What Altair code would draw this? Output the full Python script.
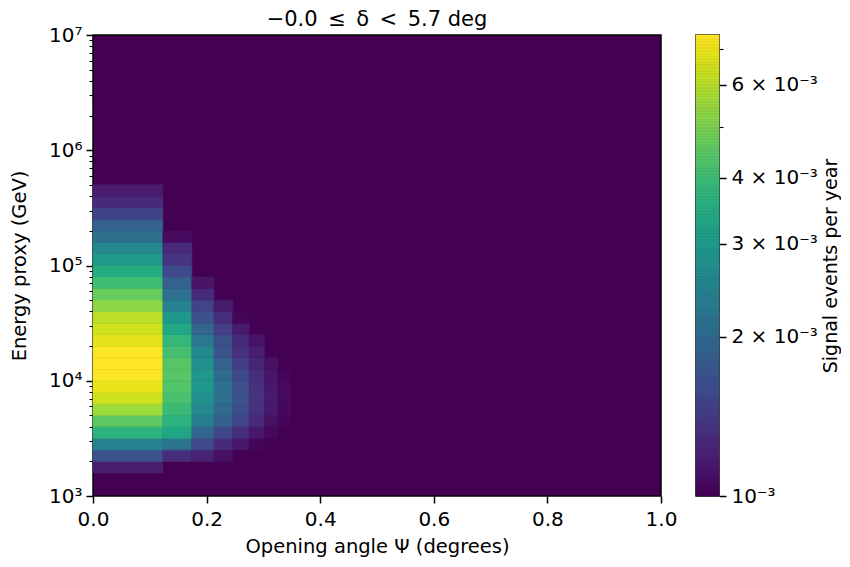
import altair as alt
import numpy as np
import pandas as pd

# ---- data -------------------------------------------------------------
# opening-angle bin edges (degrees) of the non-empty columns
psi_edges = [0.0, 0.123, 0.174, 0.213, 0.246, 0.275, 0.302, 0.326, 0.348]
# width of an energy bin in log10(E)
dlogE = 0.1
# lowest log10(E / GeV) bin of each column
col_start = [3.2, 3.3, 3.3, 3.3, 3.4, 3.4, 3.5, 3.6]
# signal events per year (units of 1e-3), from the lowest bin upward
col_values = [
    [1.17, 1.65, 2.42, 3.62, 4.51, 5.57, 6.48, 6.96, 7.42, 7.45, 7.39, 6.89, 6.48,
     6.10, 5.29, 4.69, 4.00, 3.46, 3.02, 2.57, 2.10, 1.86, 1.49, 1.27, 1.15],
    [1.30, 2.14, 3.27, 3.62, 3.92, 4.16, 4.33, 4.42, 4.38, 4.10, 3.80, 3.34, 2.90,
     2.42, 2.10, 1.86, 1.56, 1.35, 1.27, 1.06],
    [1.20, 1.56, 1.90, 2.32, 2.57, 2.73, 2.90, 2.90, 2.73, 2.57, 2.23, 1.90, 1.65,
     1.49, 1.27, 1.11],
    [1.08, 1.27, 1.52, 1.83, 1.98, 2.10, 2.10, 1.98, 1.86, 1.69, 1.62, 1.44, 1.30, 1.15],
    [1.13, 1.30, 1.49, 1.59, 1.65, 1.62, 1.56, 1.44, 1.32, 1.27, 1.15, 1.02],
    [1.02, 1.13, 1.27, 1.32, 1.35, 1.32, 1.30, 1.22, 1.17, 1.10],
    [1.04, 1.08, 1.13, 1.15, 1.13, 1.11, 1.08],
    [1.02, 1.04, 1.05, 1.04, 1.02],
]
color_min = 1e-3
color_max = 7.45e-3

x_ticks = [0.0, 0.2, 0.4, 0.6, 0.8, 1.0]
y_major = [1e3, 1e4, 1e5, 1e6, 1e7]
y_major_labels = ["10³", "10⁴", "10⁵", "10⁶", "10⁷"]
cb_ticks = [1e-3, 2e-3, 3e-3, 4e-3, 5e-3, 6e-3, 7e-3]
cb_labels = ["10⁻³", "2 × 10⁻³", "3 × 10⁻³", "4 × 10⁻³", "", "6 × 10⁻³", ""]

title_text = "−0.0\u2002≤\u2002δ\u2002<\u20025.7 deg"
x_title = "Opening angle Ψ (degrees)"
y_title = "Energy proxy (GeV)"
cb_title = "Signal events per year"

# ---- tables -----------------------------------------------------------
rows = []
for i, (start, vals) in enumerate(zip(col_start, col_values)):
    for j, v in enumerate(vals):
        lo = round(start + j * dlogE, 2)
        rows.append({
            "x": psi_edges[i], "x2": psi_edges[i + 1],
            "y": 10 ** lo, "y2": 10 ** (lo + dlogE),
            "v": v * 1e-3,
        })
df = pd.DataFrame(rows)

y_values = []
for k in range(3, 7):
    for m in range(1, 10):
        y_values.append(m * 10.0 ** k)
y_values.append(1e7)

n_steps = 300
lv = np.linspace(np.log10(color_min), np.log10(color_max), n_steps + 1)
cb_df = pd.DataFrame({"lo": 10 ** lv[:-1], "hi": 10 ** lv[1:],
                      "mid": 10 ** ((lv[:-1] + lv[1:]) / 2)})

# ---- helpers ----------------------------------------------------------
def label_expr(vals, labels):
    expr = "''"
    for v, lab in zip(vals, labels):
        expr = f"(abs(datum.value - {v!r}) < {v * 1e-3!r}) ? '{lab}' : " + expr
    return expr

major_test_y = " || ".join(f"abs(datum.value - {v!r}) < {v * 1e-3!r}" for v in y_major)
cb_major = [v for v, lab in zip(cb_ticks, cb_labels) if lab]
major_test_cb = " || ".join(f"abs(datum.value - {v!r}) < {v * 1e-3!r}" for v in cb_major)

color_scale = alt.Scale(type="log", scheme="viridis",
                        domain=[color_min, color_max], clamp=True)

FONT = "DejaVu Sans"
LBL = 20
TTL = 19.5
H = 461

heat = alt.Chart(df).mark_rect(strokeWidth=0.6).encode(
    x=alt.X("x:Q", scale=alt.Scale(domain=[0, 1], nice=False, zero=False),
            axis=alt.Axis(values=x_ticks, format=".1f", title=x_title,
                          labelFlush=False, grid=False, domain=False,
                          tickSize=7, tickWidth=1.5, tickColor="black",
                          labelFontSize=LBL, labelPadding=6,
                          titleFontSize=TTL, titleFontWeight="normal",
                          titlePadding=8)),
    x2="x2:Q",
    y=alt.Y("y:Q", scale=alt.Scale(type="log", domain=[1e3, 1e7], nice=False),
            axis=alt.Axis(values=y_values, labelExpr=label_expr(y_major, y_major_labels),
                          labelOverlap=False, grid=False, domain=False,
                          tickSize={"condition": {"test": major_test_y, "value": 7}, "value": 4},
                          tickWidth={"condition": {"test": major_test_y, "value": 1.5}, "value": 1.1},
                          tickColor="black", labelFontSize=LBL, labelPadding=4,
                          title=y_title, titleFontSize=TTL, titleFontWeight="normal",
                          titlePadding=19)),
    y2="y2:Q",
    color=alt.Color("v:Q", scale=color_scale, legend=None),
    stroke=alt.Stroke("v:Q", scale=color_scale, legend=None),
).properties(
    width=568, height=H,
    title=alt.TitleParams(title_text, fontSize=21, fontWeight="normal",
                          anchor="middle", offset=-5),
)

colorbar = alt.Chart(cb_df).mark_rect(strokeWidth=0.6).encode(
    y=alt.Y("lo:Q", scale=alt.Scale(type="log", domain=[color_min, color_max], nice=False),
            axis=alt.Axis(orient="right", values=cb_ticks,
                          labelExpr=label_expr(cb_ticks, cb_labels),
                          labelOverlap=False, grid=False, domain=False,
                          tickSize={"condition": {"test": major_test_cb, "value": 7}, "value": 4},
                          tickWidth={"condition": {"test": major_test_cb, "value": 1.5}, "value": 1.1},
                          tickColor="black", labelFontSize=LBL, labelPadding=5,
                          title=cb_title, titleAngle=270, titleFontSize=19,
                          titleFontWeight="normal", titleX=111, titleY=H / 2,
                          titleAlign="center", titleBaseline="middle")),
    y2="hi:Q",
    color=alt.Color("mid:Q", scale=color_scale, legend=None),
    stroke=alt.Stroke("mid:Q", scale=color_scale, legend=None),
).properties(width=23, height=H)

chart = alt.hconcat(heat, colorbar, spacing=16).configure(
    font=FONT,
    padding={"left": 0, "top": 0, "right": 0, "bottom": 0},
).configure_view(
    fill="#440154", stroke="black", strokeWidth=1.5,
).configure_axis(
    labelColor="black", titleColor="black", labelFont=FONT, titleFont=FONT,
).configure_title(font=FONT, color="black")

chart.save("out.html", embed_options={"renderer": "svg", "actions": False})
